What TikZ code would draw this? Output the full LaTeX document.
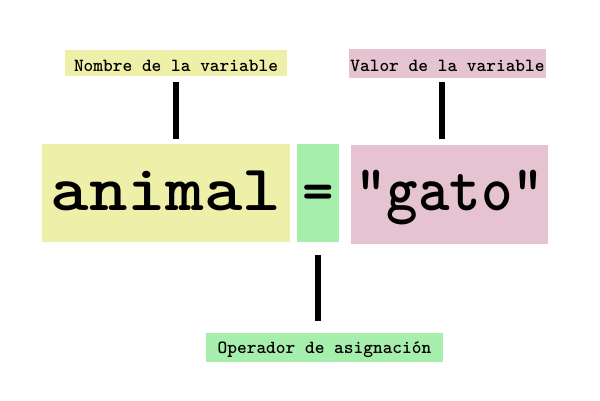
\documentclass[tikz,border=0pt]{standalone}
\usepackage{graphicx}
\definecolor{cyel}{RGB}{238,239,168}
\definecolor{cgrn}{RGB}{166,238,172}
\definecolor{cpnk}{RGB}{229,195,209}
\begin{document}
\begin{tikzpicture}[x=1pt,y=-1pt,
  box/.style={inner sep=0pt, outer sep=0pt, anchor=center},
  lbl/.style={box, font=\fontsize{18.5}{18.5}\selectfont\ttfamily\bfseries, text depth=0pt},
  big/.style={box, font=\fontsize{60}{60}\selectfont\ttfamily\bfseries, text depth=0pt},
  bar/.style={line width=6pt}]
\useasboundingbox (0,0) rectangle (600,400);
\node[lbl, fill=cyel, minimum width=222pt, minimum height=26pt, text height=16pt] (lname) at (176,63) {Nombre de la variable};
\node[lbl, fill=cpnk, minimum width=197pt, minimum height=29pt, text height=16pt] (lval) at (447.5,63.5) {Valor de la variable};
\node[big, fill=cyel, minimum width=248pt, minimum height=98pt, text height=34pt] (bname) at (166,193) {\scalebox{1.22}[1.08]{animal}};
\node[big, fill=cgrn, minimum width=42pt, minimum height=98pt, text height=34pt] (bop) at (318,193) {=};
\node[big, fill=cpnk, minimum width=197pt, minimum height=99pt, text height=31pt] (bval) at (449.5,194.5) {\scalebox{1}[1.08]{"gato"}};
\node[lbl, fill=cgrn, minimum width=237pt, minimum height=29pt, text height=11pt] (lop) at (324.5,347.5) {Operador de asignación};
\coordinate (x1) at (176,0);
\coordinate (x2) at (442,0);
\coordinate (x3) at (318,0);
\draw[bar, shorten <=6pt, shorten >=5pt] (lname.south -| x1) -- (bname.north -| x1);
\draw[bar, shorten <=4pt, shorten >=6pt] (lval.south -| x2) -- (bval.north -| x2);
\draw[bar, shorten <=13pt, shorten >=12pt] (bop.south -| x3) -- (lop.north -| x3);
\end{tikzpicture}
\end{document}
